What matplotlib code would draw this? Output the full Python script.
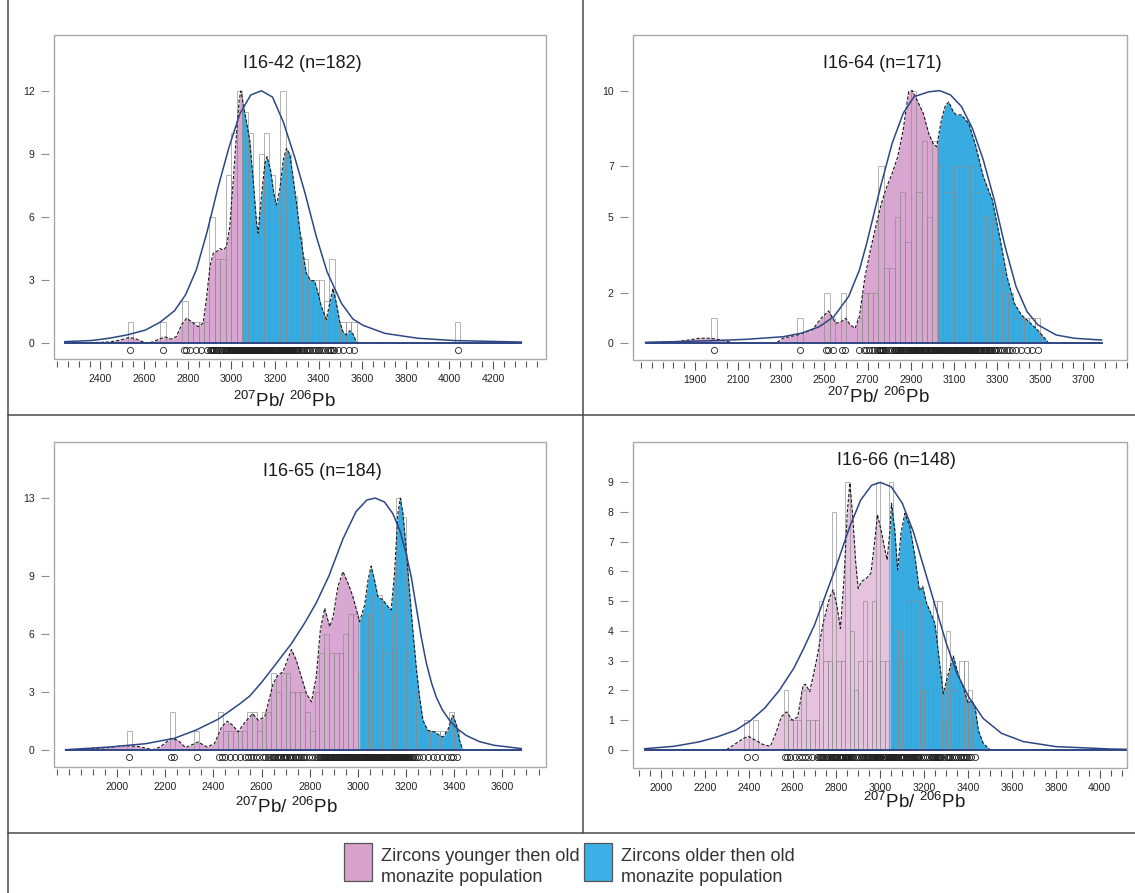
import numpy as np
import matplotlib
matplotlib.use("Agg")
import matplotlib.pyplot as plt
from matplotlib.patches import Rectangle
from matplotlib.lines import Line2D
from matplotlib.ticker import MultipleLocator

plt.rcParams['font.family'] = ['Liberation Sans', 'DejaVu Sans']
plt.rcParams['mathtext.fontset'] = 'custom'
plt.rcParams['mathtext.rm'] = 'Liberation Sans'
plt.rcParams['mathtext.it'] = 'Liberation Sans:italic'
plt.rcParams['mathtext.bf'] = 'Liberation Sans:bold'

# ------------------------------------------------------------------ data
titles = ["I16-42 (n=182)", "I16-64 (n=171)", "I16-65 (n=184)", "I16-66 (n=148)"]
split_ages = [3050, 3020, 3007, 3044]
x_tick_labels = [
    [2400, 2600, 2800, 3000, 3200, 3400, 3600, 3800, 4000, 4200],
    [1900, 2100, 2300, 2500, 2700, 2900, 3100, 3300, 3500, 3700],
    [2000, 2200, 2400, 2600, 2800, 3000, 3200, 3400, 3600],
    [2000, 2200, 2400, 2600, 2800, 3000, 3200, 3400, 3600, 3800, 4000],
]
y_tick_labels = [
    [0, 3, 6, 9, 12],
    [0, 2, 5, 7, 10],
    [0, 3, 6, 9, 13],
    [0, 1, 2, 3, 4, 5, 6, 7, 8, 9],
]
bin_widths = [25, 25, 20, 20]

# histogram bins (left edge, count)
p1_bin_left = [2525, 2675, 2775, 2800, 2825, 2850, 2875, 2900, 2925, 2950,
               2975, 3000, 3025, 3050, 3075, 3100, 3125, 3150, 3175, 3200,
               3225, 3250, 3275, 3300, 3325, 3350, 3375, 3400, 3425, 3450,
               3475, 3500, 3525, 3550, 4025]
p1_bin_count = [1, 1, 2, 1, 1, 1, 1, 6, 4, 4,
                8, 10, 12, 11, 10, 6, 9, 10, 8, 6,
                12, 9, 7, 5, 4, 3, 3, 3, 2, 4,
                1, 1, 1, 1, 1]
p2_bin_left = [1975, 2375, 2500, 2525, 2575, 2650, 2675, 2700, 2725, 2750,
               2775, 2800, 2825, 2850, 2875, 2900, 2925, 2950, 2975, 3000,
               3025, 3050, 3075, 3100, 3125, 3150, 3175, 3200, 3225, 3250,
               3275, 3300, 3325, 3350, 3375, 3400, 3425, 3450, 3475]
p2_bin_count = [1, 1, 2, 1, 2, 1, 2, 2, 2, 7,
                3, 3, 5, 6, 4, 10, 6, 8, 5, 8,
                7, 6, 6, 7, 7, 7, 7, 6, 5, 5,
                4, 3, 2, 2, 1, 1, 1, 1, 1]
p3_bin_left = [2040, 2220, 2320, 2420, 2440, 2460, 2480, 2500, 2520, 2540,
               2560, 2580, 2600, 2620, 2640, 2660, 2680, 2700, 2720, 2740,
               2760, 2780, 2800, 2820, 2840, 2860, 2880, 2900, 2920, 2940,
               2960, 2980, 3000, 3020, 3040, 3060, 3080, 3100, 3120, 3140,
               3160, 3180, 3200, 3220, 3240, 3260, 3280, 3300, 3320, 3340,
               3360, 3380, 3400]
p3_bin_count = [1, 2, 1, 2, 1, 1, 1, 1, 1, 2,
                2, 1, 2, 2, 4, 3, 4, 4, 3, 3,
                3, 2, 1, 3, 5, 6, 5, 5, 5, 6,
                7, 7, 4, 7, 7, 8, 8, 5, 5, 7,
                13, 12, 5, 3, 2, 1, 1, 1, 1, 1,
                1, 2, 1]
p4_bin_left = [2380, 2420, 2560, 2580, 2600, 2620, 2640, 2660, 2680, 2700,
               2720, 2740, 2760, 2780, 2800, 2820, 2840, 2860, 2880, 2900,
               2920, 2940, 2960, 2980, 3000, 3020, 3040, 3060, 3080, 3100,
               3120, 3140, 3160, 3180, 3200, 3220, 3240, 3260, 3280, 3300,
               3320, 3340, 3360, 3380, 3400, 3420]
p4_bin_count = [1, 1, 2, 1, 1, 1, 2, 1, 1, 1,
                5, 3, 3, 8, 3, 3, 9, 4, 2, 3,
                5, 3, 5, 9, 3, 3, 9, 4, 4, 3,
                5, 5, 5, 2, 2, 3, 5, 5, 1, 4,
                2, 2, 3, 3, 2, 1]

# kernel density curves (age, value)
p1_kde_x = [2237, 2300, 2380, 2440, 2490, 2532, 2565, 2606, 2640, 2673,
            2698, 2723, 2748, 2773, 2795, 2815, 2848, 2871, 2887, 2902,
            2917, 2932, 2948, 2963, 2978, 2993, 3009, 3024, 3036, 3044,
            3050, 3054, 3070, 3085, 3100, 3115, 3123, 3138, 3154, 3164,
            3180, 3195, 3207, 3222, 3238, 3253, 3268, 3283, 3299, 3314,
            3329, 3344, 3363, 3382, 3398, 3413, 3436, 3451, 3466, 3482,
            3497, 3512, 3527, 3543, 3558, 3573, 3581, 4330]
p1_kde_y = [0.02, 0.03, 0.04, 0.06, 0.15, 0.28, 0.20, 0.02, 0.06, 0.22,
            0.30, 0.20, 0.32, 0.90, 1.19, 1.05, 0.79, 0.95, 2.20, 3.64,
            4.28, 4.35, 4.50, 4.43, 4.59, 5.54, 7.76, 9.98, 11.56, 11.99,
            11.70, 11.40, 10.50, 9.60, 7.80, 5.80, 5.23, 6.97, 8.55, 8.87,
            8.23, 7.13, 6.57, 7.28, 8.71, 9.26, 9.00, 7.90, 6.65, 5.38,
            4.28, 3.33, 3.00, 2.96, 2.38, 1.74, 1.14, 1.90, 2.61, 1.90,
            1.03, 0.55, 0.40, 0.60, 0.44, 0.08, 0.00, 0.00]
p2_kde_x = [1671, 1800, 1870, 1920, 1971, 2021, 2089, 2275, 2308, 2376,
            2443, 2485, 2519, 2553, 2578, 2598, 2620, 2642, 2662, 2688,
            2713, 2738, 2764, 2789, 2814, 2840, 2865, 2890, 2907, 2929,
            2958, 2983, 3003, 3020, 3042, 3060, 3076, 3095, 3110, 3135,
            3169, 3202, 3236, 3278, 3312, 3346, 3380, 3413, 3447, 3481,
            3515, 3540, 3784]
p2_kde_y = [0.03, 0.05, 0.13, 0.20, 0.20, 0.13, 0.00, 0.00, 0.20, 0.33,
            0.53, 0.99, 1.28, 0.79, 0.86, 0.99, 0.73, 0.59, 1.06, 2.64,
            3.69, 4.62, 5.54, 6.20, 6.73, 7.39, 8.44, 9.96, 10.00, 9.63,
            9.10, 8.31, 7.92, 7.78, 8.84, 9.40, 9.55, 9.20, 9.04, 9.04,
            8.70, 7.78, 6.60, 5.67, 4.22, 2.64, 1.58, 1.12, 0.86, 0.59,
            0.26, 0.00, 0.00]
p3_kde_x = [1786, 1967, 2027, 2087, 2148, 2178, 2223, 2253, 2284, 2306,
            2336, 2374, 2404, 2434, 2457, 2480, 2502, 2532, 2563, 2586,
            2613, 2648, 2668, 2689, 2707, 2724, 2744, 2765, 2786, 2807,
            2827, 2844, 2862, 2883, 2897, 2917, 2938, 2959, 2979, 2996,
            3007, 3028, 3042, 3055, 3069, 3083, 3104, 3125, 3138, 3152,
            3166, 3176, 3187, 3201, 3214, 3228, 3242, 3256, 3270, 3290,
            3318, 3339, 3353, 3373, 3394, 3408, 3422, 3435, 3442, 3678]
p3_kde_y = [0.02, 0.14, 0.24, 0.20, 0.03, 0.17, 0.60, 0.52, 0.14, 0.26,
            0.43, 0.17, 0.34, 1.20, 1.50, 1.29, 0.95, 1.46, 1.89, 1.55,
            1.72, 3.44, 3.87, 4.05, 4.65, 5.20, 4.65, 3.79, 2.93, 2.50,
            3.79, 6.20, 7.32, 6.37, 6.89, 8.44, 9.21, 8.61, 7.92, 7.15,
            6.63, 7.49, 8.78, 9.50, 8.78, 7.92, 7.75, 7.40, 7.23, 9.13,
            12.20, 13.00, 12.20, 10.30, 8.26, 6.20, 4.30, 2.75, 1.55, 1.03,
            0.95, 0.77, 0.69, 1.03, 1.81, 1.38, 0.52, 0.03, 0.00, 0.00]
p4_kde_x = [1925, 2299, 2340, 2374, 2398, 2432, 2465, 2498, 2523, 2548,
            2573, 2598, 2623, 2648, 2659, 2678, 2709, 2739, 2770, 2785,
            2803, 2818, 2834, 2849, 2861, 2873, 2888, 2899, 2914, 2937,
            2957, 2975, 2987, 3003, 3021, 3031, 3044, 3051, 3066, 3079,
            3094, 3112, 3135, 3158, 3178, 3193, 3211, 3234, 3249, 3269,
            3287, 3310, 3333, 3356, 3378, 3401, 3417, 3432, 3447, 3470,
            3500, 4125]
p4_kde_y = [0.00, 0.00, 0.20, 0.37, 0.45, 0.31, 0.17, 0.11, 0.54, 1.10,
            1.27, 0.99, 1.10, 2.17, 2.20, 1.95, 3.01, 4.25, 5.15, 5.38,
            4.81, 4.08, 5.71, 7.96, 8.98, 7.96, 6.28, 5.43, 5.66, 5.77,
            5.94, 7.06, 7.91, 7.40, 6.73, 6.39, 7.40, 8.30, 7.40, 6.05,
            7.29, 7.96, 7.51, 6.50, 5.35, 5.50, 4.93, 4.53, 4.25, 3.01,
            1.89, 2.56, 3.15, 2.51, 2.11, 1.55, 1.66, 1.44, 0.65, 0.20,
            0.00, 0.00]

# fitted (single-population) curves
p1_fit_x = [2237, 2357, 2440, 2523, 2606, 2673, 2740, 2790, 2840, 2889,
            2939, 2989, 3039, 3089, 3138, 3189, 3239, 3289, 3339, 3389,
            3439, 3505, 3558, 3605, 3705, 3855, 4022, 4330]
p1_fit_y = [0.08, 0.13, 0.24, 0.40, 0.63, 1.00, 1.55, 2.30, 3.50, 5.30,
            7.40, 9.30, 10.90, 11.80, 12.00, 11.70, 10.50, 8.90, 7.10, 5.10,
            3.40, 1.90, 1.15, 0.85, 0.47, 0.24, 0.13, 0.06]
p2_fit_x = [1671, 1971, 2140, 2308, 2393, 2477, 2544, 2612, 2662, 2696,
            2730, 2764, 2814, 2865, 2915, 2983, 3034, 3084, 3135, 3186,
            3236, 3287, 3337, 3388, 3439, 3489, 3574, 3658, 3784]
p2_fit_y = [0.04, 0.10, 0.16, 0.26, 0.40, 0.66, 1.06, 1.85, 2.90, 3.96,
            5.15, 6.33, 7.92, 9.10, 9.76, 9.95, 10.00, 9.83, 9.37, 8.50,
            7.26, 5.67, 3.83, 2.24, 1.25, 0.73, 0.33, 0.20, 0.13]
p3_fit_x = [1786, 1967, 2118, 2238, 2329, 2419, 2510, 2551, 2600, 2650,
            2724, 2781, 2827, 2880, 2938, 2992, 3037, 3072, 3110, 3145,
            3175, 3201, 3222, 3242, 3262, 3284, 3305, 3325, 3350, 3380,
            3414, 3449, 3504, 3565, 3678]
p3_fit_y = [0.03, 0.17, 0.34, 0.62, 1.05, 1.60, 2.40, 2.80, 3.50, 4.30,
            5.50, 6.60, 7.60, 9.00, 10.90, 12.30, 12.90, 13.00, 12.80, 12.20,
            11.30, 10.10, 8.90, 7.40, 5.90, 4.50, 3.50, 2.75, 2.10, 1.55,
            1.10, 0.77, 0.45, 0.26, 0.09]
p4_fit_x = [1925, 2058, 2174, 2257, 2340, 2407, 2473, 2540, 2606, 2650,
            2700, 2750, 2800, 2860, 2910, 2960, 3000, 3050, 3100, 3150,
            3200, 3250, 3300, 3350, 3405, 3469, 3552, 3652, 3801, 4050,
            4125]
p4_fit_y = [0.03, 0.11, 0.26, 0.43, 0.65, 0.97, 1.40, 2.00, 2.75, 3.40,
            4.20, 5.20, 6.20, 7.50, 8.40, 8.90, 9.00, 8.85, 8.30, 7.35,
            6.10, 4.85, 3.60, 2.55, 1.75, 1.05, 0.55, 0.27, 0.10, 0.02,
            0.01]

legend_labels = ["Zircons younger then old\nmonazite population",
                 "Zircons older then old\nmonazite population"]
x_label = r'$^{207}$Pb/ $^{206}$Pb'

# ------------------------------------------------------------------ layout / style
W, H = 1135, 893
frames = [(54, 35, 546, 359), (633, 35, 1127, 360),
          (54, 442, 546, 767), (633, 442, 1127, 768)]
xlims = [(2187, 4443), (1613, 3902), (1738, 3781), (1872, 4125)]
ylims = [(-0.746, 14.65), (-0.66, 12.2), (-0.86, 15.89), (-0.62, 10.36)]
dot_y = [-0.33, -0.27, -0.36, -0.24]
title_pos = [(302, 63), (882, 63), (322, 472), (896, 460)]
xlabel_pos = [(284, 401), (878, 397), (286, 807), (914, 802)]
pinks = ['#D8A6D0', '#D8A6D0', '#D9A8D2', '#E5C2DE']
blue = '#38ABE0'
navy = '#2E4784'

bins_left = [p1_bin_left, p2_bin_left, p3_bin_left, p4_bin_left]
bins_count = [p1_bin_count, p2_bin_count, p3_bin_count, p4_bin_count]
kde_x = [p1_kde_x, p2_kde_x, p3_kde_x, p4_kde_x]
kde_y = [p1_kde_y, p2_kde_y, p3_kde_y, p4_kde_y]
fit_x = [p1_fit_x, p2_fit_x, p3_fit_x, p4_fit_x]
fit_y = [p1_fit_y, p2_fit_y, p3_fit_y, p4_fit_y]


def fxp(px):
    return px / W


def fyp(py):
    return 1 - py / H


fig = plt.figure(figsize=(W / 100, H / 100), dpi=100)
fig.patch.set_facecolor('white')

for i in range(4):
    l, t, r, b = frames[i]
    ax = fig.add_axes([fxp(l), fyp(b), (r - l) / W, (b - t) / H])
    ax.set_xlim(*xlims[i])
    ax.set_ylim(*ylims[i])

    kx = np.array(kde_x[i], dtype=float)
    ky = np.array(kde_y[i], dtype=float)
    sp = split_ages[i]
    ax.fill_between(kx, ky, 0, where=kx <= sp, color=pinks[i], lw=0, zorder=1)
    ax.fill_between(kx, ky, 0, where=kx >= sp, color=blue, lw=0, zorder=1)

    left = np.array(bins_left[i], dtype=float)
    cnt = np.array(bins_count[i], dtype=float)
    w = bin_widths[i]
    ax.bar(left, cnt, width=w, align='edge', fill=False,
           edgecolor='#8A8A8A', linewidth=0.7, alpha=0.65, zorder=2)

    ax.plot(kx, ky, color='#1A1A1A', lw=0.8, ls=(0, (3, 1.6)), zorder=3)

    fxv = fit_x[i]
    fyv = fit_y[i]
    ax.plot([fxv[0], fxv[-1]], [0, 0], color=navy, lw=1.4, zorder=4)
    ax.plot(fxv, fyv, color=navy, lw=1.1, zorder=4)

    # individual analyses drawn as a rug of open circles from the bin counts
    ages = []
    for lo, c in zip(bins_left[i], bins_count[i]):
        for k in range(c):
            ages.append(lo + (k + 0.5) * w / c)
    ax.plot(ages, np.full(len(ages), dot_y[i]), 'o', mfc='none', mec='#222222',
            ms=4.4, mew=0.6, zorder=4, clip_on=False)

    for s in ['top', 'right']:
        ax.spines[s].set_visible(False)
    ax.spines['left'].set_position(('outward', 3.6))
    ax.spines['left'].set_color('none')
    ax.spines['bottom'].set_position(('outward', 1.5))
    ax.spines['bottom'].set_color('none')
    ax.add_patch(Rectangle((0, 0), 1, 1, transform=ax.transAxes, fill=False,
                           ec='#A9A9A9', lw=1.0, clip_on=False, zorder=6))

    ax.set_yticks(y_tick_labels[i])
    ax.set_yticklabels([str(v) for v in y_tick_labels[i]])
    ax.tick_params(axis='y', direction='out', length=5.8, width=0.8,
                   color='#8C8C8C', pad=4.5, labelsize=7.5, labelcolor='#222222')
    ax.set_xticks(x_tick_labels[i])
    ax.set_xticklabels([str(v) for v in x_tick_labels[i]])
    ax.xaxis.set_minor_locator(MultipleLocator(50))
    ax.tick_params(axis='x', which='major', direction='out', length=5.5, width=0.8,
                   color='#555555', pad=3.5, labelsize=7.6, labelcolor='#222222')
    ax.tick_params(axis='x', which='minor', direction='out', length=4, width=0.8,
                   color='#555555')

    tx, ty = title_pos[i]
    fig.text(fxp(tx), fyp(ty), titles[i], ha='center', va='center',
             fontsize=13, color='#1A1A1A')
    lx, ly = xlabel_pos[i]
    fig.text(fxp(lx), fyp(ly), x_label, ha='center', va='center',
             fontsize=13.5, color='#1A1A1A')

# panel separators
line_c = '#4A4A4A'
fig.add_artist(Line2D([fxp(8), fxp(8)], [0, 1], color=line_c, lw=1.1))
fig.add_artist(Line2D([fxp(583), fxp(583)], [fyp(833), 1], color=line_c, lw=1.1))
fig.add_artist(Line2D([fxp(8), 1], [fyp(415), fyp(415)], color=line_c, lw=1.1))
fig.add_artist(Line2D([fxp(8), 1], [fyp(833), fyp(833)], color=line_c, lw=1.1))

# legend
leg_colors = ['#D7A1C9', '#3BAFE6']
leg_box_x = [344, 584]
leg_text_x = [381, 621]
for c, bx, tx, lab in zip(leg_colors, leg_box_x, leg_text_x, legend_labels):
    fig.add_artist(Rectangle((fxp(bx), fyp(881)), 28 / W, 38 / H,
                             transform=fig.transFigure, fc=c, ec='#555555', lw=0.9))
    fig.text(fxp(tx), fyp(867), lab, ha='left', va='center', fontsize=13,
             linespacing=1.25, color='#333333')

fig.savefig('out.png', dpi=100)
